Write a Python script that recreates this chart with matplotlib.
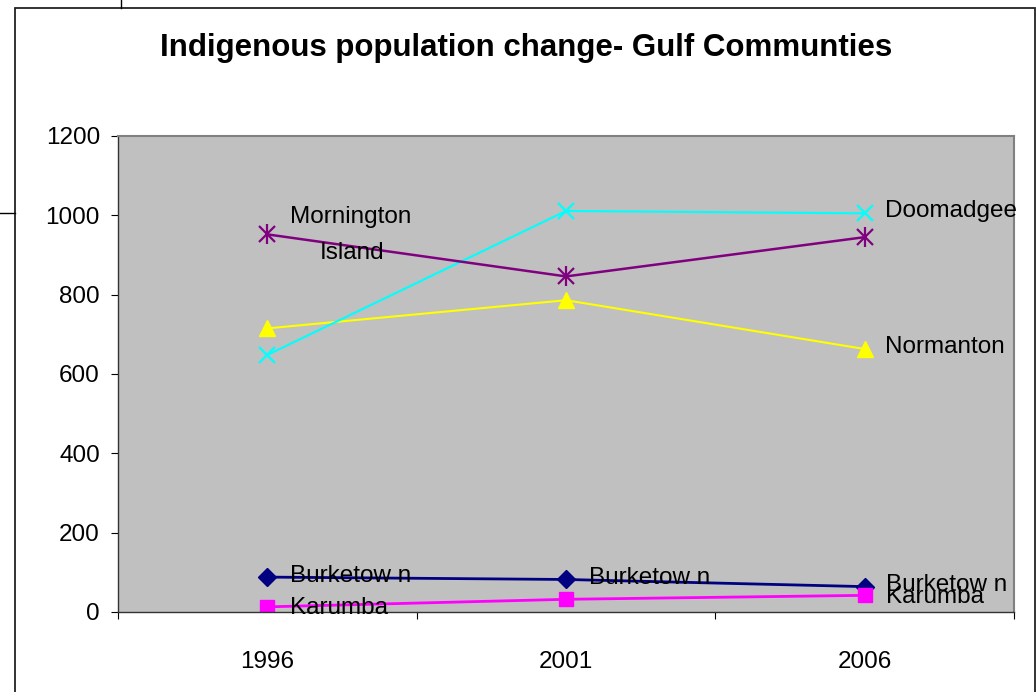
import numpy as np
import matplotlib.pyplot as plt
from matplotlib.lines import Line2D
from matplotlib.patches import Rectangle

years = ['1996', '2001', '2006']
burketown = [88, 82, 64]
karumba = [13, 32, 42]
normanton = [715, 786, 663]
doomadgee = [648, 1011, 1005]
mornington = [952, 846, 945]

W, H = 1036, 692
fig = plt.figure(figsize=(W / 100, H / 100), dpi=100)
plt.rcParams['font.family'] = ['Liberation Sans', 'DejaVu Sans']

# outer chart frame (bottom runs off the image) and stray lines
fig.add_artist(Rectangle((15 / W, -0.05), (1035 - 15) / W, (H - 8) / H + 0.05,
                         transform=fig.transFigure, fill=False, lw=1.3, ec='#222222'))
fig.add_artist(Line2D([121 / W, 121 / W], [1, (H - 8) / H], transform=fig.transFigure, color='black', lw=1))
fig.add_artist(Line2D([0, 15 / W], [(H - 213) / H] * 2, transform=fig.transFigure, color='black', lw=1))

ax = fig.add_axes([118 / W, (H - 612) / H, (1014 - 118) / W, (612 - 136) / H])
ax.set_facecolor('#c0c0c0')
x = np.arange(len(years))

ax.plot(x, burketown, color='#000080', marker='D', ms=9, lw=2)
ax.plot(x, karumba, color='#ff00ff', marker='s', ms=10, lw=2)
ax.plot(x, normanton, color='#ffff00', marker='^', ms=11, lw=1.5)
ax.plot(x, doomadgee, color='#00ffff', marker='x', ms=12, mew=1.6, lw=1.5)
ax.plot(x, mornington, color='#800080', marker='x', ms=12, mew=1.6, lw=1.8)
ax.plot(x, mornington, color='#800080', marker='|', ms=15, mew=1.6, lw=0)

fs = 17.5
ax.text(x[0] + 0.077, mornington[0] + 15, 'Mornington', fontsize=fs, va='bottom')
ax.text(x[0] + 0.177, mornington[0] - 20, 'Island', fontsize=fs, va='top')
ax.text(x[2] + 0.067, doomadgee[2] + 5, 'Doomadgee', fontsize=fs, va='center')
ax.text(x[2] + 0.067, normanton[2] + 5, 'Normanton', fontsize=fs, va='center')
for i in range(3):
    ax.text(x[i] + 0.077 - 0.007 * (i == 2), burketown[i] + 3, 'Burketow n', fontsize=fs, va='center')
ax.text(x[0] + 0.077, karumba[0] - 3, 'Karumba', fontsize=fs, va='center')
ax.text(x[2] + 0.07, karumba[2] - 3, 'Karumba', fontsize=fs, va='center')

ax.set_xlim(-0.5, 2.5)
ax.set_ylim(0, 1200)
ax.set_yticks(range(0, 1201, 200))
ax.set_xticks(x)
ax.set_xticklabels(years)
ax.set_xticks([-0.5, 0.5, 1.5, 2.5], minor=True)
ax.tick_params(axis='x', which='major', length=0, pad=28, labelsize=fs)
ax.tick_params(axis='x', which='minor', length=5, direction='out', width=0.8)
ax.tick_params(axis='y', length=5, width=0.8, labelsize=fs, pad=8)
for s in ['top', 'right']:
    ax.spines[s].set_color('#808080')
    ax.spines[s].set_linewidth(1.5)
for s in ['left', 'bottom']:
    ax.spines[s].set_color('#333333')
    ax.spines[s].set_linewidth(1)

fig.text(526 / W, (H - 48) / H, 'Indigenous population change- Gulf Communties',
         fontsize=22.5, fontweight='bold', ha='center', va='center')

fig.savefig('out.png', dpi=100)
